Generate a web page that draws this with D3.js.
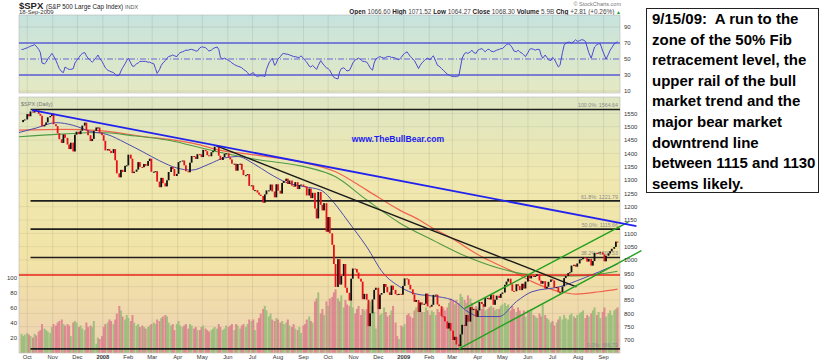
<!DOCTYPE html>
<html>
<head>
<meta charset="utf-8">
<script src="https://cdn.jsdelivr.net/npm/d3@7"></script>
<style>
  body { margin: 0; background: #fff; }
  svg text { font-family: Arial, "Liberation Sans", sans-serif; }
</style>
</head>
<body>
<div id="graf"></div>
<script>
// $SPX diario oct-2007 .. sep-2009, precio + RSI + volumen + medias
// Datos: 3 muestras por semana (lun, mié, vie) empezando el lunes 24-sep-2007

const semanaInicio = new Date(2007, 8, 24)

// cierres por semana [lun, mie, vie]
const cierres2007 = [
  [1517,1525,1527],[1547,1539,1557],[1553,1562,1561],[1548,1541,1501],[1507,1516,1535],
  [1540,1549,1509],[1502,1475,1453],[1439,1471,1458],[1433,1416,1440],[1407,1470,1481],
  [1472,1485,1504],[1515,1486,1468],[1446,1454,1484],[1497,1497,1478]
]
const cierres2008 = [
  [1468,1447,1411],[1416,1409,1401],[1416,1374,1325],[1310,1338,1330],[1353,1355,1395],
  [1380,1326,1331],[1339,1367,1349],[1348,1360,1353],[1371,1380,1331],[1331,1333,1294],
  [1273,1308,1288],[1276,1299,1330],[1349,1341,1315],[1323,1367,1370],[1373,1355,1333],
  [1329,1365,1390],[1388,1379,1397],[1396,1386,1413],[1408,1393,1389],[1404,1409,1425],
  [1427,1391,1375],[1386,1398,1400],[1385,1377,1361],[1361,1335,1360],[1361,1338,1318],
  [1318,1322,1278],[1280,1262,1262],[1253,1245,1240],[1215,1246,1261],[1261,1283,1257],
  [1235,1284,1260],[1249,1289,1296],[1305,1285,1298],[1279,1275,1292],[1266,1281,1283],
  [1277,1275,1242],[1268,1232,1252],[1193,1156,1255],[1207,1186,1213],[1106,1161,1100],
  [1057,985,899],[1003,908,940],[985,896,877],[848,930,968],[966,953,930],
  [919,853,873],[851,752,800],[852,888,896],[816,870,876],[910,899,879],
  [869,904,888],[872,869,873]
]
const cierres2009 = [
  [870,903,931],[928,907,890],[871,843,850],[805,841,832],[836,874,826],
  [825,832,869],[870,833,827],[789,788,770],[743,764,735],[700,712,683],
  [677,721,757],[753,794,769],[823,813,816],[787,811,843],[835,825,857],
  [858,852,870],[832,851,866],[858,873,878],[907,919,930],[909,884,883],
  [909,903,887],[911,893,919],[942,931,940],[939,940,946],[923,911,921],
  [893,900,918],[927,923,896],[898,879,879],[901,932,940],[951,954,979],
  [982,975,987],[1002,1003,1010],[1007,994,1004],[979,996,1026],[1025,1028,1029],
  [1021,995,1016],[1025,1033,1042],[1049,1069,1068]
]

// volumen (en cientos de millones) por semana
const volumen2007 = [
  [25,22,24],[26,24,22],[20,25,23],[28,30,38],[32,30,28],[26,34,38],[36,40,42],
  [44,38,36],[38,36,22],[40,42,40],[34,36,32],[30,40,34],[36,34,42],[12,20,18]
]
const volumen2008 = [
  [22,34,38],[40,44,42],[38,44,52],[62,56,48],[44,50,46],[42,50,40],[36,38,34],
  [36,34,32],[34,36,38],[40,38,44],[42,46,48],[50,48,40],[36,38,30],[38,42,36],
  [34,36,38],[32,38,36],[32,34,30],[30,34,36],[32,30,28],[30,32,34],[32,38,34],
  [30,32,36],[34,36,38],[30,38,36],[32,36,38],[34,38,44],[42,44,30],[40,46,52],
  [58,62,56],[48,52,44],[42,46,44],[40,42,38],[40,44,36],[34,38,32],[30,34,26],
  [36,38,44],[48,42,40],[68,72,80],[52,58,50],[68,62,72],[74,80,84],[72,68,76],
  [60,70,64],[62,70,60],[52,58,62],[50,58,56],[58,64,68],[62,54,32],[58,50,52],
  [60,54,48],[50,56,62],[40,22,18]
]
const volumen2009 = [
  [36,34,38],[50,52,48],[46,56,60],[62,58,54],[54,60,56],[50,56,54],[50,58,54],
  [58,60,56],[60,66,72],[70,64,70],[66,78,74],[70,66,76],[72,66,60],[62,60,60],
  [58,62,56],[58,60,62],[60,56,58],[58,62,64],[66,62,64],[56,62,58],[54,60,56],
  [50,56,48],[56,54,58],[50,48,46],[52,48,64],[50,46,44],[40,42,36],[40,44,48],
  [44,50,46],[44,50,52],[48,46,50],[52,54,56],[46,50,48],[52,56,60],[50,54,46],
  [54,60,48],[52,56,50],[56,58,60]
]

const rsi2007 = [
  [62,62,63],[64,65,66],[67,68,66],[62,58,45],[44,46,50],[54,57,54],[48,43,38],
  [34,33,40],[38,37,37],[38,45,48],[52,55,57],[58,54,51],[48,46,48],[52,55,51]
]
const rsi2008 = [
  [47,43,39],[36,35,34],[33,31,29],[30,35,39],[44,48,51],[45,41,41],[44,45,47],
  [47,47,47],[46,46,45],[44,38,32],[37,42,45],[48,51,53],[54,55,54],[53,56,58],
  [59,60,61],[61,62,62],[61,60,60],[64,65,65],[64,62,60],[61,63,64],[65,62,52],
  [50,51,50],[48,47,45],[43,42,41],[40,39,37],[35,33,30],[32,33,30],[28,29,29],
  [29,28,37],[45,48,51],[42,45,50],[53,56,57],[56,56,55],[54,53,53],[52,52,54],
  [51,48,46],[41,40,42],[39,37,42],[48,45,42],[39,38,36],[30,27,26],[25,34,38],
  [39,37,35],[36,40,45],[49,50,51],[49,47,47],[46,43,39],[36,45,50],[52,53,52],
  [51,52,53],[53,52,52],[51,50,49]
]
const rsi2009 = [
  [52,55,57],[59,56,53],[50,48,44],[38,42,45],[48,50,51],[49,52,54],[47,42,41],
  [38,36,34],[31,30,29],[28,28,28],[29,40,51],[57,58,57],[59,61,58],[57,61,62],
  [63,61,59],[62,62,60],[59,60,61],[62,63,63],[66,68,69],[67,64,60],[59,61,59],
  [57,55,53],[58,62,63],[62,61,62],[62,55,51],[55,52,49],[48,52,50],[44,40,42],
  [58,67,70],[71,71,70],[72,74,72],[73,74,74],[72,65,58],[51,58,65],[68,69,69],
  [60,55,50],[56,61,64],[69,70,72]
]

// medias móviles [fecha, valor]
const media50 = [
  ['2007-09-21',1478],['2007-10-12',1495],['2007-11-05',1515],['2007-11-26',1505],
  ['2007-12-17',1482],['2008-01-07',1470],['2008-01-28',1440],['2008-02-19',1405],
  ['2008-03-10',1372],['2008-03-31',1345],['2008-04-18',1337],['2008-05-08',1358],
  ['2008-05-28',1383],['2008-06-13',1388],['2008-07-03',1360],['2008-07-21',1325],
  ['2008-08-12',1290],['2008-09-02',1275],['2008-09-22',1262],['2008-10-08',1215],
  ['2008-10-24',1150],['2008-11-17',1049],['2008-12-07',951],['2008-12-27',900],
  ['2009-01-17',872],['2009-02-05',865],['2009-03-01',850],['2009-03-22',802],
  ['2009-04-03',788],['2009-04-27',788],['2009-05-18',844],['2009-06-06',881],
  ['2009-07-10',900],['2009-08-07',931],['2009-08-27',956],['2009-09-18',985]
]
const media150 = [
  ['2007-09-21',1462],['2007-11-10',1472],['2007-12-28',1478],['2008-02-10',1465],
  ['2008-03-19',1450],['2008-05-15',1409],['2008-07-10',1375],['2008-08-30',1352],
  ['2008-10-10',1312],['2008-11-17',1225],['2008-12-27',1139],['2009-02-05',1075],
  ['2009-03-19',1012],['2009-04-27',969],['2009-06-06',944],['2009-07-20',940],
  ['2009-08-27',947],['2009-09-18',958]
]
const media200 = [
  ['2007-09-21',1487],['2007-11-15',1490],['2007-12-28',1485],['2008-02-15',1465],
  ['2008-04-28',1432],['2008-05-20',1413],['2008-07-01',1395],['2008-08-30',1367],
  ['2008-10-10',1331],['2008-11-17',1262],['2008-12-27',1187],['2009-01-20',1150],
  ['2009-02-05',1120],['2009-02-25',1087],['2009-04-06',1012],['2009-05-18',950],
  ['2009-06-06',919],['2009-07-10',881],['2009-07-30',872],['2009-08-27',881],
  ['2009-09-18',891]
]

// líneas de tendencia [fecha, precio]
const tendenciaAzul  = [['2007-10-07',1562],['2009-10-11',1127]]
const tendenciaNegra = [['2008-05-19',1427],['2009-07-30',899]]
const canalSuperior  = [['2009-03-16',819],['2009-10-01',1142]]
const canalInferior  = [['2009-03-09',667],['2009-10-17',1035]]
const lineaRoja = 944

// niveles Fibonacci
const fibNiveles = [1564.64, 1221.79, 1115.66, 1009.53, 666.79]
const fibEtiquetas = ['100.0%: 1564.64', '61.8%: 1221.79', '50.0%: 1115.66', '38.2%: 1009.53', '0.0%: 666.79']
const fibInicio = '2007-10-05'

const ticksPrecio = d3.range(700, 1551, 50)
const ticksRsi = [90, 70, 50, 30, 10]
const ticksVolumen = [20, 40, 60, 80, 100]
const meses = ['Oct','Nov','Dec','2008','Feb','Mar','Apr','May','Jun','Jul','Aug','Sep',
               'Oct','Nov','Dec','2009','Feb','Mar','Apr','May','Jun','Jul','Aug','Sep']
const mesesInicio = d3.timeMonths(new Date(2007, 9, 1), new Date(2009, 8, 2))

const nota = ['9/15/09:  A run to the', 'zone of the 50% Fib', 'retracement level, the',
  'upper rail of the bull', 'market trend and the', 'major bear market',
  'downtrend line', 'between 1115 and 1130', 'seems likely.']

// ---------- armado de la serie ----------
const parse = d3.timeParse('%Y-%m-%d')
const semanasC = cierres2007.concat(cierres2008, cierres2009)
const semanasV = volumen2007.concat(volumen2008, volumen2009)
const semanasR = rsi2007.concat(rsi2008, rsi2009)
datos = []
semanasC.forEach((sem, k) => {
  sem.forEach((c, j) => {
    datos.push({
      fecha: new Date(2007, 8, 24 + 7 * k + 2 * j),
      cierre: c,
      vol: semanasV[k][j],
      rsi: semanasR[k][j]
    })
  })
})
datos.forEach((d, i) => { d.prev = i > 0 ? datos[i - 1].cierre : d.cierre })

// ---------- configuración ----------
const ancho = 820, alto = 362
const izq = 19, der = 620
const rsiTop = 15, rsiBot = 93
const pTop = 97, pBot = 353

svg = d3.select('#graf').append('svg')
  .attr('width', ancho).attr('height', alto)

x = d3.scaleTime().domain([new Date(2007, 8, 21), new Date(2009, 8, 21)]).range([izq, der])
y = d3.scaleLinear().domain([700, 1550]).range([340, 113.33])
yv = d3.scaleLinear().domain([0, 100]).range([352.7, 277.3])
yr = d3.scaleLinear().domain([10, 90]).range([91, 27])

const defs = svg.append('defs')
const gradRsi = defs.append('linearGradient').attr('id', 'gRsi').attr('x1', 0).attr('x2', 0).attr('y1', 0).attr('y2', 1)
gradRsi.append('stop').attr('offset', '0%').attr('stop-color', '#c6e3de')
gradRsi.append('stop').attr('offset', '100%').attr('stop-color', '#e5e9c2')
const gradP = defs.append('linearGradient').attr('id', 'gP').attr('x1', 0).attr('x2', 0).attr('y1', 0).attr('y2', 1)
gradP.append('stop').attr('offset', '0%').attr('stop-color', '#dde6c3')
gradP.append('stop').attr('offset', '30%').attr('stop-color', '#efe8b0')
gradP.append('stop').attr('offset', '62%').attr('stop-color', '#f2e4a6')
gradP.append('stop').attr('offset', '100%').attr('stop-color', '#edd2b2')
defs.append('clipPath').attr('id', 'clipP').append('rect')
  .attr('x', izq).attr('y', pTop).attr('width', der - izq).attr('height', pBot - pTop)
defs.append('clipPath').attr('id', 'clipR').append('rect')
  .attr('x', izq).attr('y', rsiTop).attr('width', der - izq).attr('height', rsiBot - rsiTop)

// ---------- encabezado ----------
const enc = svg.append('text').attr('x', 19).attr('y', 8.5).attr('fill', '#222')
enc.append('tspan').attr('font-size', '9.5px').attr('font-weight', 'bold').text('$SPX ')
enc.append('tspan').attr('font-size', '6.3px').text('(S&P 500 Large Cap Index) ')
enc.append('tspan').attr('font-size', '5.5px').attr('fill', '#555').text('INDX')
svg.append('text').attr('x', 19).attr('y', 14).attr('font-size', '6px').attr('fill', '#333').text('18-Sep-2009')
svg.append('text').attr('x', 621).attr('y', 6).attr('text-anchor', 'end')
  .attr('font-size', '5.5px').attr('fill', '#777').text('© StockCharts.com')
const q = svg.append('text').attr('x', 621).attr('y', 13.5).attr('text-anchor', 'end')
  .attr('font-size', '6.4px').attr('fill', '#222')
;[['Open ', '1066.60 '], ['High ', '1071.52 '], ['Low ', '1064.27 '], ['Close ', '1068.30 '],
  ['Volume ', '5.9B '], ['Chg ', '+2.81 (+0.26%) ']].forEach(p => {
  q.append('tspan').attr('font-weight', 'bold').text(p[0])
  q.append('tspan').attr('fill', '#444').text(p[1])
})
q.append('tspan').attr('fill', '#19a019').attr('font-size', '5px').text('▲')

// ---------- panel RSI ----------
svg.append('rect').attr('x', izq).attr('y', rsiTop).attr('width', der - izq).attr('height', rsiBot - rsiTop)
  .attr('fill', 'url(#gRsi)').attr('stroke', '#b8b8b8').attr('stroke-width', 0.6)
const gR = svg.append('g').attr('clip-path', 'url(#clipR)')
gR.selectAll('.vgr').data(mesesInicio).join('line')
  .attr('x1', d => x(d)).attr('x2', d => x(d)).attr('y1', rsiTop).attr('y2', rsiBot)
  .attr('stroke', '#000').attr('stroke-opacity', 0.08)
gR.selectAll('.hgr').data([90, 10]).join('line')
  .attr('x1', izq).attr('x2', der).attr('y1', d => yr(d)).attr('y2', d => yr(d))
  .attr('stroke', '#000').attr('stroke-opacity', 0.08)
;[70, 30].forEach(v => {
  gR.append('line').attr('x1', izq).attr('x2', der).attr('y1', yr(v)).attr('y2', yr(v))
    .attr('stroke', '#5a5ad6').attr('stroke-width', 1.4)
})
gR.append('line').attr('x1', izq).attr('x2', der).attr('y1', yr(50)).attr('y2', yr(50))
  .attr('stroke', '#5a5ad6').attr('stroke-width', 0.9).attr('stroke-dasharray', '6,2,1,2')
gR.append('path').datum(datos)
  .attr('d', d3.line().x(d => x(d.fecha)).y(d => yr(d.rsi)))
  .attr('fill', 'none').attr('stroke', '#4a4ad0').attr('stroke-width', 1)
svg.append('g').selectAll('text').data(ticksRsi).join('text')
  .attr('x', 624).attr('y', d => yr(d) + 2.2).attr('font-size', '6px').attr('fill', '#333').text(d => d)

// ---------- panel de precio ----------
svg.append('rect').attr('x', izq).attr('y', pTop).attr('width', der - izq).attr('height', pBot - pTop)
  .attr('fill', 'url(#gP)').attr('stroke', '#b8b8b8').attr('stroke-width', 0.6)
const gP = svg.append('g').attr('clip-path', 'url(#clipP)')
gP.selectAll('.vg').data(mesesInicio).join('line')
  .attr('x1', d => x(d)).attr('x2', d => x(d)).attr('y1', pTop).attr('y2', pBot)
  .attr('stroke', '#000').attr('stroke-opacity', 0.08)
gP.selectAll('.hg').data(ticksPrecio).join('line')
  .attr('x1', izq).attr('x2', der).attr('y1', d => y(d)).attr('y2', d => y(d))
  .attr('stroke', '#000').attr('stroke-opacity', 0.06)

// volumen
gP.selectAll('.vol').data(datos).join('rect')
  .attr('x', d => x(d.fecha) - 1).attr('width', 2)
  .attr('y', d => yv(d.vol)).attr('height', d => yv(0) - yv(d.vol))
  .attr('fill', d => d.cierre >= d.prev ? '#93bb78' : '#da7d8c').attr('fill-opacity', 0.85)

// medias móviles
const lineaMedia = d3.line().curve(d3.curveMonotoneX).x(d => x(parse(d[0]))).y(d => y(d[1]))
gP.append('path').attr('d', lineaMedia(media200)).attr('fill', 'none').attr('stroke', '#f0644e').attr('stroke-width', 1.2)
gP.append('path').attr('d', lineaMedia(media150)).attr('fill', 'none').attr('stroke', '#4f9a45').attr('stroke-width', 1.1)
gP.append('path').attr('d', lineaMedia(media50)).attr('fill', 'none').attr('stroke', '#4b4bb0').attr('stroke-width', 1)

// Fibonacci y línea roja
fibNiveles.forEach((v, i) => {
  gP.append('line').attr('x1', x(parse(fibInicio))).attr('x2', der).attr('y1', y(v)).attr('y2', y(v))
    .attr('stroke', '#1e1e1e').attr('stroke-width', 1.6)
  gP.append('text').attr('x', 618).attr('y', y(v) - 2).attr('text-anchor', 'end')
    .attr('font-size', '5.3px').attr('fill', '#8a8a8a').text(fibEtiquetas[i])
})
gP.append('line').attr('x1', izq).attr('x2', der).attr('y1', y(lineaRoja)).attr('y2', y(lineaRoja))
  .attr('stroke', '#e8251c').attr('stroke-width', 1.4)

// velas (de cierre previo a cierre)
gP.selectAll('.vela').data(datos.slice(1)).join('rect')
  .attr('x', d => x(d.fecha) - 0.9).attr('width', 1.8)
  .attr('y', d => y(Math.max(d.cierre, d.prev)))
  .attr('height', d => Math.max(1, Math.abs(y(d.cierre) - y(d.prev))))
  .attr('fill', d => d.cierre >= d.prev ? '#111' : '#e8101a')

svg.append('text').attr('x', 21).attr('y', 106).attr('font-size', '5.5px').attr('fill', '#777').text('$SPX (Daily)')
svg.append('text').attr('x', 398).attr('y', 142).attr('text-anchor', 'middle')
  .attr('font-size', '8.6px').attr('font-weight', 'bold').attr('fill', '#1c1cf0').text('www.TheBullBear.com')

// líneas de tendencia
const lineaT = d3.line().x(d => x(parse(d[0]))).y(d => y(d[1]))
svg.append('path').attr('d', lineaT(tendenciaNegra)).attr('stroke', '#1a1a1a').attr('stroke-width', 1.4).attr('fill', 'none')
svg.append('path').attr('d', lineaT(canalSuperior)).attr('stroke', '#22a01e').attr('stroke-width', 1.4).attr('fill', 'none')
svg.append('path').attr('d', lineaT(canalInferior)).attr('stroke', '#22a01e').attr('stroke-width', 1.4).attr('fill', 'none')
svg.append('path').attr('d', lineaT(tendenciaAzul)).attr('stroke', '#2222ee').attr('stroke-width', 1.8).attr('fill', 'none')

// ejes
svg.append('g').selectAll('text').data(ticksPrecio).join('text')
  .attr('x', 624).attr('y', d => y(d) + 2.2).attr('font-size', '6px').attr('fill', '#333').text(d => d)
svg.append('g').selectAll('text').data(ticksVolumen).join('text')
  .attr('x', 17).attr('y', d => yv(d) + 2.2).attr('text-anchor', 'end')
  .attr('font-size', '6px').attr('fill', '#333').text(d => d)
svg.append('g').selectAll('text').data(mesesInicio).join('text')
  .attr('x', d => x(d)).attr('y', 359).attr('text-anchor', 'middle')
  .attr('font-size', '5.8px').attr('fill', '#333')
  .attr('font-weight', (d, i) => /^\d/.test(meses[i]) ? 'bold' : 'normal')
  .text((d, i) => meses[i])

// ---------- nota ----------
svg.append('rect').attr('x', 646.5).attr('y', 8.5).attr('width', 172).attr('height', 184)
  .attr('fill', '#fff').attr('stroke', '#222').attr('stroke-width', 1)
svg.append('g').selectAll('text').data(nota).join('text')
  .attr('x', 652).attr('y', (d, i) => 24 + i * 20.6)
  .attr('font-size', '15px').attr('font-weight', 'bold').attr('fill', '#000')
  .attr('xml:space', 'preserve').style('white-space', 'pre')
  .text(d => d)
</script>
</body>
</html>
